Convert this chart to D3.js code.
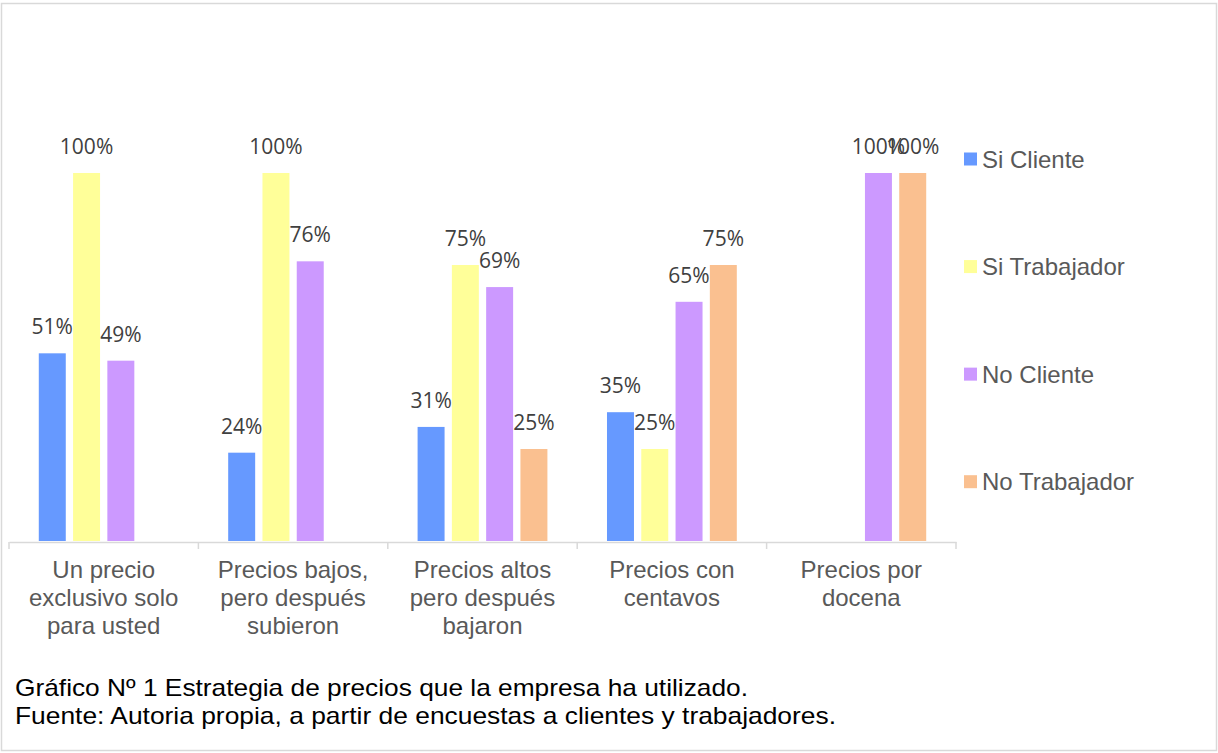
<!DOCTYPE html>
<html>
<head>
<meta charset="utf-8">
<script src="https://cdn.jsdelivr.net/npm/d3@7"></script>
<style>
  html, body { margin: 0; padding: 0; background: #fff; }
  svg { display: block; }
</style>
</head>
<body>
<svg id="chart" width="1218" height="753"></svg>
<script>
// Categories (pricing strategies) and the share answering for each group
const categories = [
  "Un precio exclusivo solo para usted",
  "Precios bajos, pero después subieron",
  "Precios altos pero después bajaron",
  "Precios con centavos",
  "Precios por docena"
];
const seriesNames = ["Si Cliente", "Si Trabajador", "No Cliente", "No Trabajador"];
const siCliente    = [0.51, 0.24, 0.31, 0.35, null];
const siTrabajador = [1.00, 1.00, 0.75, 0.25, null];
const noCliente    = [0.49, 0.76, 0.69, 0.65, 1.00];
const noTrabajador = [null, null, 0.25, 0.75, 1.00];
const seriesColors = ["#6699FF", "#FFFF99", "#CC99FF", "#FAC090"];
const captionLines = [
  "Gráfico Nº 1 Estrategia de precios que la empresa ha utilizado.",
  "Fuente: Autoria propia, a partir de encuestas a clientes y trabajadores."
];

const seriesValues = [siCliente, siTrabajador, noCliente, noTrabajador];
const rows = categories.map((c, i) => ({
  category: c,
  values: seriesNames.map((s, j) => ({ series: s, value: seriesValues[j][i], color: seriesColors[j] }))
}));

const svg = d3.select("#chart");
const sansFont = "'Liberation Sans', Arial, sans-serif";

// frame around the whole figure
svg.append("rect")
  .attr("x", 1.5).attr("y", 3.5)
  .attr("width", 1215).attr("height", 747)
  .attr("fill", "#fff").attr("stroke", "#d9d9d9").attr("stroke-width", 1.5);

const plot = { left: 9, right: 956, top: 173, bottom: 541 };

const x0 = d3.scaleBand().domain(categories).range([plot.left, plot.right]).padding(0);
const x1 = d3.scaleBand().domain(seriesNames).range([0, x0.bandwidth()])
  .paddingInner(0.213).paddingOuter(0.869);
const y = d3.scaleLinear().domain([0, 1]).range([plot.bottom, plot.top]);
const pct = d3.format(".0%");

// bars
const groups = svg.append("g").selectAll("g")
  .data(rows).join("g")
  .attr("transform", d => `translate(${x0(d.category)},0)`);

groups.selectAll("rect")
  .data(d => d.values.filter(v => v.value != null))
  .join("rect")
  .attr("x", d => x1(d.series))
  .attr("y", d => y(d.value))
  .attr("width", x1.bandwidth())
  .attr("height", d => y(0) - y(d.value))
  .attr("fill", d => d.color);

// value labels above each bar
groups.selectAll("text")
  .data(d => d.values.filter(v => v.value != null))
  .join("text")
  .attr("x", d => x1(d.series) + x1.bandwidth() / 2)
  .attr("y", d => y(d.value) - 19)
  .attr("text-anchor", "middle")
  .attr("font-family", "'Open Sans', sans-serif")
  .attr("font-size", 21)
  .attr("fill", "#404040")
  .text(d => pct(d.value));

// category axis
const axisY = plot.bottom + 1;
const axis = svg.append("g")
  .attr("transform", `translate(0,${axisY})`)
  .call(d3.axisBottom(x0).tickSize(0).tickPadding(0).tickFormat(""));
axis.select(".domain").attr("stroke", "#d9d9d9").attr("stroke-width", 1.5);

const boundaries = categories.map(c => x0(c)).concat([x0.range()[1]]);
axis.selectAll("line.boundary")
  .data(boundaries).join("line")
  .attr("class", "boundary")
  .attr("x1", d => d).attr("x2", d => d)
  .attr("y1", 0).attr("y2", 7)
  .attr("stroke", "#d9d9d9").attr("stroke-width", 1.5);

// wrapped category labels
const labelG = svg.append("g")
  .attr("font-family", sansFont)
  .attr("font-size", 24)
  .attr("fill", "#595959")
  .attr("text-anchor", "middle");

categories.forEach(cat => {
  const cx = x0(cat) + x0.bandwidth() / 2;
  const t = labelG.append("text").attr("x", cx).attr("y", 577.5);
  const words = cat.split(" ");
  let line = [];
  let lines = [];
  const probe = t.append("tspan");
  words.forEach(w => {
    const trial = line.concat([w]).join(" ");
    probe.text(trial);
    if (probe.node().getComputedTextLength() > 172 && line.length) {
      lines.push(line.join(" "));
      line = [w];
    } else {
      line.push(w);
    }
  });
  lines.push(line.join(" "));
  probe.remove();
  lines.forEach((l, i) => {
    t.append("tspan").attr("x", cx).attr("dy", i === 0 ? 0 : 28.4).text(l);
  });
});

// legend
const legend = svg.append("g")
  .attr("font-family", sansFont)
  .attr("font-size", 24)
  .attr("fill", "#595959");
const legendY = d3.scalePoint().domain(seriesNames).range([159, 481.7]);
seriesNames.forEach((s, i) => {
  const cy = legendY(s);
  legend.append("rect")
    .attr("x", 964).attr("y", cy - 6.5)
    .attr("width", 13).attr("height", 13)
    .attr("fill", seriesColors[i]);
  legend.append("text")
    .attr("x", 982).attr("y", cy + 8.5)
    .text(s);
});

// caption and source, set to their full line widths
const captionWidths = [733, 821];
const caption = svg.append("g")
  .attr("font-family", sansFont)
  .attr("font-size", 24)
  .attr("fill", "#000");
captionLines.forEach((l, i) => {
  caption.append("text")
    .attr("x", 15).attr("y", 696 + i * 27.5)
    .attr("textLength", captionWidths[i])
    .attr("lengthAdjust", "spacingAndGlyphs")
    .text(l);
});
</script>
</body>
</html>
